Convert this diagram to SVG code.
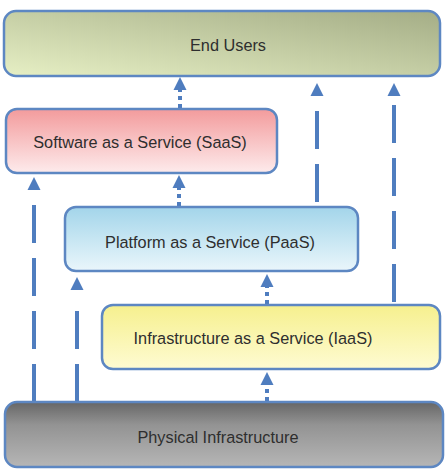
<svg xmlns="http://www.w3.org/2000/svg" xmlns:xlink="http://www.w3.org/1999/xlink" width="445" height="471" viewBox="0 0 445 471">
<style>
.box{stroke:#5d87c2;stroke-width:2.5}
.lbl{font-family:"Liberation Sans",Arial,sans-serif;font-size:16.3px;fill:#2e2e2e;text-anchor:middle;dominant-baseline:central}
.dash{stroke:#4f7dbf;stroke-width:4;fill:none;stroke-dasharray:38 15}
.dot{stroke:#4f7dbf;stroke-width:4;fill:none;stroke-dasharray:4 4}
.head{fill:#4f7dbf}
</style>
<defs>
<linearGradient id="gEnd" x1="0" y1="1" x2="1" y2="0">
<stop offset="0" stop-color="#e6efc4"/>
<stop offset="1" stop-color="#a4ad86"/>
</linearGradient>
<linearGradient id="gSaaS" x1="0" y1="0" x2="0" y2="1">
<stop offset="0" stop-color="#f39b9c"/>
<stop offset="1" stop-color="#fdebec"/>
</linearGradient>
<linearGradient id="gPaaS" x1="0" y1="0" x2="0" y2="1">
<stop offset="0" stop-color="#a3d5ea"/>
<stop offset="1" stop-color="#eaf6fb"/>
</linearGradient>
<linearGradient id="gIaaS" x1="0" y1="0" x2="0" y2="1">
<stop offset="0" stop-color="#f6f08e"/>
<stop offset="1" stop-color="#fefbd2"/>
</linearGradient>
<linearGradient id="gPhys" x1="0" y1="0" x2="0" y2="1">
<stop offset="0" stop-color="#666666"/>
<stop offset="0.35" stop-color="#939393"/>
<stop offset="1" stop-color="#b6b6b6"/>
</linearGradient>
<path id="head" d="M0 0 L6.5 13 L-6.5 13 Z"/>
</defs>

<g id="connectors">
<g id="saas-end"><path class="dot" d="M180 108 V90"/><use xlink:href="#head" class="head" x="180" y="77"/></g>
<g id="paas-saas"><path class="dot" d="M179 206 V188"/><use xlink:href="#head" class="head" x="179" y="175"/></g>
<g id="iaas-paas"><path class="dot" d="M267 304 V287"/><use xlink:href="#head" class="head" x="267" y="274"/></g>
<g id="phys-iaas"><path class="dot" d="M267 401 V385"/><use xlink:href="#head" class="head" x="267" y="372"/></g>
<g id="phys-saas"><path class="dash" d="M34 402 V191"/><use xlink:href="#head" class="head" x="34" y="177"/></g>
<g id="phys-paas"><path class="dash" d="M77 402 V308"/><use xlink:href="#head" class="head" x="77" y="277"/></g>
<g id="paas-end"><path class="dash" d="M317 202 V111"/><use xlink:href="#head" class="head" x="317" y="83"/></g>
<g id="iaas-end"><path class="dash" d="M394 302 V103"/><use xlink:href="#head" class="head" x="394" y="83"/></g>
</g>

<g id="end-users">
<rect class="box" x="4" y="11" width="436" height="65" rx="12" fill="url(#gEnd)"/>
<text class="lbl" x="228" y="45">End Users</text>
</g>
<g id="saas">
<rect class="box" x="6" y="109" width="271" height="64" rx="11" fill="url(#gSaaS)"/>
<text class="lbl" x="140" y="142">Software as a Service (SaaS)</text>
</g>
<g id="paas">
<rect class="box" x="65" y="207" width="293" height="64" rx="11" fill="url(#gPaaS)"/>
<text class="lbl" x="210" y="242">Platform as a Service (PaaS)</text>
</g>
<g id="iaas">
<rect class="box" x="102" y="305" width="338" height="64" rx="11" fill="url(#gIaaS)"/>
<text class="lbl" x="253" y="338">Infrastructure as a Service (IaaS)</text>
</g>
<g id="physical">
<rect class="box" x="5" y="402" width="438" height="65" rx="12" fill="url(#gPhys)"/>
<text class="lbl" x="218" y="437">Physical Infrastructure</text>
</g>
</svg>
